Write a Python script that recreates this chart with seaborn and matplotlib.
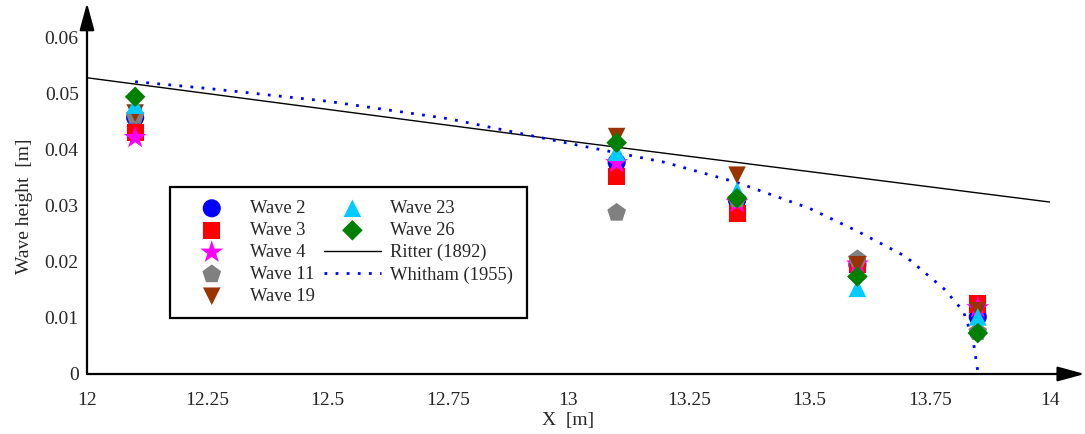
import matplotlib
matplotlib.use("Agg")
import matplotlib.pyplot as plt
import seaborn as sns

# measured wave heights at the gauges
gauge_x = [12.1, 13.1, 13.35, 13.6, 13.85]
wave_2 = [0.0458, 0.0378, 0.0310, 0.0195, 0.0102]
wave_3 = [0.0432, 0.0352, 0.0287, 0.0196, 0.0125]
wave_4 = [0.0422, 0.0377, 0.0306, 0.0196, 0.0118]
wave_11 = [0.0461, 0.0288, 0.0312, 0.0205, 0.0075]
wave_19 = [0.0466, 0.0424, 0.0355, 0.0195, 0.0113]
wave_23 = [0.0480, 0.0396, 0.0327, 0.0153, 0.0102]
wave_26 = [0.0495, 0.0413, 0.0314, 0.0174, 0.0073]

# analytical curves
ritter_x = [12.0, 13.0, 14.0]
ritter_y = [0.0529, 0.0416, 0.0307]
whitham_x = [12.1, 12.25, 12.5, 12.75, 13.0, 13.2, 13.35, 13.5, 13.6, 13.7, 13.78, 13.82, 13.84, 13.85]
whitham_y = [0.0522, 0.0510, 0.0487, 0.0456, 0.0412, 0.0378, 0.0342, 0.0296, 0.0255, 0.0210, 0.0152, 0.0112, 0.0062, 0.0005]

x_ticks = [12, 12.25, 12.5, 12.75, 13, 13.25, 13.5, 13.75, 14]
x_labels = ["12", "12.25", "12.5", "12.75", "13", "13.25", "13.5", "13.75", "14"]
y_ticks = [0, 0.01, 0.02, 0.03, 0.04, 0.05, 0.06]
y_labels = ["0", "0.01", "0.02", "0.03", "0.04", "0.05", "0.06"]

waves = [
    ("Wave 2", wave_2, "o", "#0000ff", 170),
    ("Wave 3", wave_3, "s", "#ff0000", 150),
    ("Wave 4", wave_4, "*", "#ff00ff", 300),
    ("Wave 11", wave_11, "p", "#808080", 200),
    ("Wave 19", wave_19, "v", "#993300", 160),
    ("Wave 23", wave_23, "^", "#00ccff", 160),
    ("Wave 26", wave_26, "D", "#008000", 110),
]

sns.set_style("white")
plt.rcParams["font.family"] = ["Liberation Serif", "DejaVu Serif"]

fig = plt.figure(figsize=(10.85, 4.34), dpi=100)
ax = fig.add_axes([87 / 1085, 60 / 434, 963 / 1085, 336 / 434])

for name, vals, mk, col, sz in waves:
    sns.scatterplot(x=gauge_x, y=vals, marker=mk, color=col, s=sz,
                    edgecolor="none", label=name, ax=ax, zorder=3)

sns.lineplot(x=ritter_x, y=ritter_y, color="black", linewidth=1.0,
             label="Ritter (1892)", ax=ax, zorder=2)
sns.lineplot(x=whitham_x, y=whitham_y, color="#0000ff", linewidth=2.0,
             linestyle=(0, (1, 3)), label="Whitham (1955)", ax=ax, zorder=2)

ax.set_xlim(12, 14)
ax.set_ylim(0, 0.06)
ax.set_xticks(x_ticks)
ax.set_xticklabels(x_labels)
ax.set_yticks(y_ticks)
ax.set_yticklabels(y_labels)
ax.tick_params(axis="both", direction="in", length=8, width=1.3,
               labelsize=14, color="black")
ax.tick_params(axis="y", pad=6)
ax.tick_params(axis="x", pad=13)
ax.set_xlabel("X  [m]", fontsize=14, labelpad=2)
ax.set_ylabel("Wave height  [m]", fontsize=14, labelpad=8)

for s in ax.spines.values():
    s.set_visible(False)

# axis arrows
arrow = dict(arrowstyle="-|>,head_length=1.65,head_width=0.45", color="black",
             lw=1.6, shrinkA=0, shrinkB=0)
ax.annotate("", xy=(1.036, 0), xytext=(0, 0), xycoords="axes fraction",
            arrowprops=arrow, annotation_clip=False)
ax.annotate("", xy=(0, 1.104), xytext=(0, 0), xycoords="axes fraction",
            arrowprops=arrow, annotation_clip=False)

leg = ax.legend(ncol=2, loc="upper left", bbox_to_anchor=(0.086, 0.557),
                borderaxespad=0, fontsize=13.3, frameon=True, fancybox=False,
                handlelength=3.1, handletextpad=0.5, columnspacing=0.5,
                labelspacing=0.27, borderpad=0.72)
leg.get_frame().set_edgecolor("black")
leg.get_frame().set_linewidth(1.6)
leg.get_frame().set_alpha(1)

fig.savefig("out.png", dpi=100)
